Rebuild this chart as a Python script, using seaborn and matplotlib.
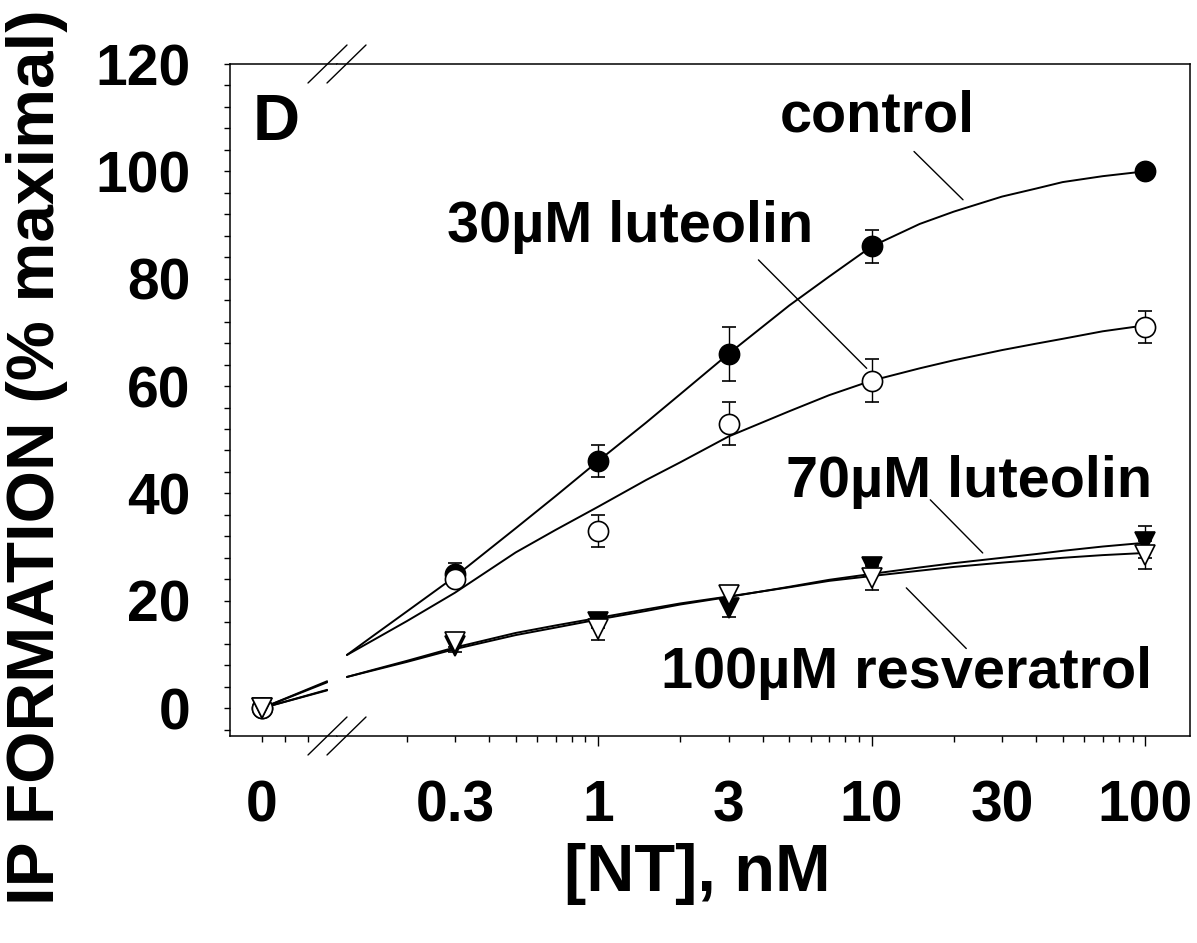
import numpy as np
import pandas as pd
import seaborn as sns
import matplotlib.pyplot as plt
from matplotlib.lines import Line2D
from matplotlib.ticker import FixedLocator, NullFormatter

# data
conc = [0.3, 1, 3, 10, 100]
control = [25, 46, 66, 86, 100]
control_err = [2, 3, 5, 3, 0]
lut30 = [24, 33, 53, 61, 71]
lut30_err = [1, 3, 4, 4, 3]
lut70 = [11.5, 16, 18.6, 26.3, 31]
lut70_err = [1, 1, 1.6, 1.5, 3]
resv = [12.3, 14.8, 21, 24.2, 28.5]
resv_err = [1, 2.2, 1.6, 2.2, 2.6]

# fitted curves
fit_conc = [0.1208, 0.15, 0.2, 0.3, 0.5, 0.7, 1, 1.5, 2, 3, 5, 7, 10, 15, 20, 30, 40, 50, 70, 100]
control_fit = [9.9, 13.4, 18.0, 24.5, 33.5, 39.5, 46, 53.2, 58.5, 66, 75, 80.4, 86, 90.2,
               92.5, 95.3, 96.8, 98, 99.1, 100]
lut30_fit = [9.9, 12.6, 16.2, 21.5, 29, 33.2, 37.5, 42.5, 45.8, 50.6, 55.3, 58.3, 61, 63.3,
             64.8, 66.7, 67.9, 68.8, 70.2, 71.3]
lut70_fit = [5.8, 7.0, 8.6, 11.0, 13.6, 15.0, 16.5, 18.1, 19.3, 20.7, 22.6, 23.9, 25.0, 26.2,
             27.0, 28.0, 28.7, 29.3, 30.1, 30.8]
resv_fit = [5.8, 7.1, 8.8, 11.3, 14.0, 15.4, 16.8, 18.4, 19.5, 20.8, 22.5, 23.7, 24.6, 25.6,
            26.3, 27.1, 27.6, 28.0, 28.5, 28.9]
# zero-concentration segment (left of the axis break)
zero_x = [0, 0.283]
zero_fit = {'control': [0, 5.0], 'lut30': [0, 4.8], 'lut70': [0, 3.4], 'resv': [0, 3.3]}

sns.set_style("ticks")
plt.rcParams['font.family'] = ['Liberation Sans', 'DejaVu Sans']
plt.rcParams['font.weight'] = 'bold'
for k in ('text.color', 'axes.labelcolor', 'xtick.color', 'ytick.color', 'axes.edgecolor'):
    plt.rcParams[k] = 'black'

W, H = 1197, 943
fig = plt.figure(figsize=(W / 100, H / 100), dpi=100)
bot = (H - 736) / H
hgt = (736 - 64) / H
axL = fig.add_axes([230 / W, bot, (337 - 230) / W, hgt])
axR = fig.add_axes([337 / W, bot, (1190 - 337) / W, hgt])

n = len(fit_conc)
fits = pd.DataFrame({'conc': fit_conc * 4,
                     'y': control_fit + lut30_fit + lut70_fit + resv_fit,
                     'series': ['control'] * n + ['lut30'] * n + ['lut70'] * n + ['resv'] * n})
sns.lineplot(data=fits, x='conc', y='y', units='series', estimator=None,
             color='black', lw=1.4, ax=axR, legend=False, zorder=2)
for k, v in zero_fit.items():
    sns.lineplot(x=zero_x, y=v, color='black', lw=1.4, ax=axL, zorder=2)

styles = [(control, control_err, 'o', 'black'),
          (lut30, lut30_err, 'o', 'white'),
          (lut70, lut70_err, 'v', 'black'),
          (resv, resv_err, 'v', 'white')]
for i, (vals, err, m, fc) in enumerate(styles):
    axR.errorbar(conc, vals, yerr=err, fmt=m, ms=14.5, mfc=fc, mec='black', mew=1.2,
                 ecolor='black', elinewidth=1, capsize=4.7, capthick=1, zorder=3 + i)
    axL.plot([0], [0], m, ms=14.5, mfc=fc, mec='black', mew=1.2, zorder=3 + i)

for ax in (axL, axR):
    ax.set_ylim(-5.2, 120)
    ax.set_xlabel('')
    ax.set_ylabel('')
    for s in ax.spines.values():
        s.set_linewidth(1.1)
        s.set_visible(True)
        s.set_color('black')
    ax.tick_params(direction='out', width=1, length=4.3, labelsize=41, colors='black')
axL.spines['right'].set_visible(False)
axR.spines['left'].set_visible(False)

# left (zero) segment
axL.set_xlim(-0.1391, 0.3261)
axL.set_xticks([0, 0.1, 0.2])
axL.set_xticklabels(['0', '', ''])
axL.set_yticks(range(0, 121, 20))
axL.yaxis.set_minor_locator(FixedLocator([v for v in range(-4, 121, 4) if v % 20]))
axL.tick_params(axis='y', which='both', length=4.3, width=1, pad=24)
axL.tick_params(axis='x', pad=27)

# right (log) segment
axR.set_xscale('log')
axR.set_xlim(0.1111, 146.0)
axR.set_xticks([0.3, 1, 3, 10, 30, 100])
axR.set_xticklabels(['0.3', '1', '3', '10', '30', '100'])
minor = [0.2, 0.4, 0.5, 0.6, 0.7, 0.8, 0.9, 2, 4, 5, 6, 7, 8, 9, 20, 40, 50, 60, 70, 80, 90]
axR.xaxis.set_minor_locator(FixedLocator(minor))
axR.xaxis.set_minor_formatter(NullFormatter())
axR.tick_params(axis='x', which='both', length=4.3, width=1, pad=27)
axR.tick_params(axis='y', which='both', left=False, right=False, labelleft=False)
for t, loc in zip(axR.xaxis.get_major_ticks(), axR.get_xticks()):
    if loc in (1, 10, 100):
        t.tick1line.set_markersize(7.2)
for lab in axL.get_xticklabels() + axL.get_yticklabels() + axR.get_xticklabels():
    lab.set_fontweight('bold')

# labels
fig.text(37 / W, 1 - 457 / H, 'IP FORMATION (% maximal)', rotation=90, ha='center',
         va='center', fontsize=48.5, fontweight='bold')
fig.text(697 / W, 1 - 874 / H, '[NT], nM', ha='center', va='center', fontsize=48,
         fontweight='bold')

# annotations
txt = dict(fontsize=41.5, fontweight='bold', va='baseline')
axR.text(4.63, 107.4, 'control', ha='left', **txt)
axR.text(0.28, 86.9, '30\u00b5M luteolin', ha='left', **txt)
axR.text(105.8, 39.4, '70\u00b5M luteolin', ha='right', **txt)
axR.text(106, 3.7, '100\u00b5M resveratrol', ha='right', **txt)
axL.text(-0.039, 105.9, 'D', ha='left', fontsize=47, fontweight='bold', va='baseline')
for (x0, y0), (x1, y1) in [((14.3, 103.7), (21.6, 94.7)), ((3.86, 83.5), (9.6, 63.3)),
                           ((16.4, 38.8), (25.5, 28.9)), ((13.4, 22.4), (22.2, 11.1))]:
    axR.plot([x0, x1], [y0, y1], color='black', lw=1)

# axis break marks
for y0, y1 in [(755, 717), (83, 45)]:
    for dx in (0, 19):
        fig.add_artist(Line2D([(308 + dx) / W, (347 + dx) / W], [1 - y0 / H, 1 - y1 / H],
                              transform=fig.transFigure, color='black', lw=1))

fig.savefig('out.png', dpi=100)
